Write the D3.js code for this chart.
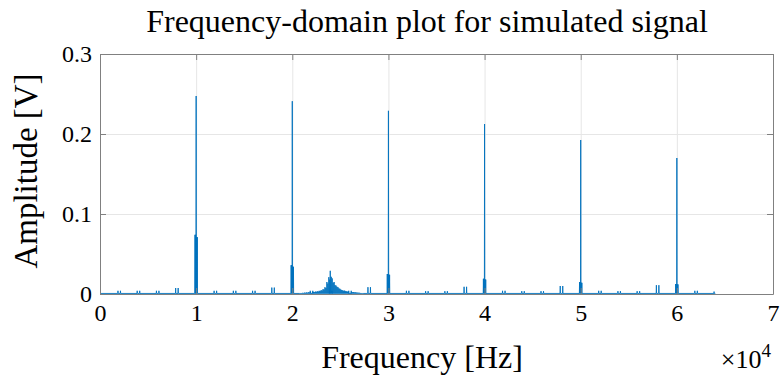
<!DOCTYPE html>
<html><head><meta charset="utf-8">
<script src="https://cdn.jsdelivr.net/npm/d3@7"></script>
<style>body{margin:0;background:#fff}svg{display:block}</style>
</head><body><div id="chart"></div>
<script>
// ---- data ----
const xTicks = [0, 10000, 20000, 30000, 40000, 50000, 60000, 70000];
const xTickLabels = ["0", "1", "2", "3", "4", "5", "6", "7"];
const yTicks = [0, 0.1, 0.2, 0.3];
const yTickLabels = ["0", "0.1", "0.2", "0.3"];

const dcAmp = 0.45;          // DC component, runs off the top of the axes
const fMax = 64000;          // last frequency bin of the spectrum

const mainFreqs = [10000, 20000, 30000, 40000, 50000, 60000];
const mainAmps  = [0.2475, 0.241, 0.229, 0.2125, 0.1925, 0.170];
const sideAmpsL = [0.074, 0.036, 0.025, 0.019, 0.015, 0.0125];
const sideAmpsR = [0.071, 0.034, 0.024, 0.018, 0.014, 0.012];

const pairCenters = [2000, 4000, 6000, 8000, 12000, 14000, 16000, 18000, 22000, 24000, 26000, 28000,
                     32000, 34000, 36000, 38000, 42000, 44000, 46000, 48000, 52000, 54000, 56000, 58000, 62000];
const pairAmps    = [0.004, 0.004, 0.004, 0.0075, 0.004, 0.004, 0.004, 0.008, 0.004, 0.004, 0.004, 0.0085,
                     0.004, 0.0035, 0.0035, 0.009, 0.004, 0.0035, 0.0035, 0.010, 0.004, 0.0035, 0.0035, 0.011, 0.004];
const lastSingleFreq = 63870;
const lastSingleAmp = 0.003;

const clusterFreqs = [20800, 20900, 21000, 21100, 21200, 21300, 21400, 21500, 21600, 21700, 21800, 21900,
  22100, 22200, 22300, 22400, 22500, 22600, 22700, 22800, 22900, 23000, 23100, 23200, 23300, 23400,
  23500, 23600, 23700, 23800, 23900, 23950, 24050, 24150, 24250, 24350, 24450, 24550, 24650, 24750,
  24850, 24950, 25050, 25150, 25250, 25350, 25450, 25550, 25650, 25750, 25850, 26150, 26250, 26350,
  26450, 26550, 26650, 26750, 26850, 26950, 27050, 27150, 27250, 27350];
const clusterAmps = [0.0010, 0.0012, 0.0011, 0.0015, 0.0012, 0.0018, 0.0014, 0.0020, 0.0016, 0.0022, 0.0018, 0.0024,
  0.0022, 0.0026, 0.0023, 0.0030, 0.0027, 0.0034, 0.0030, 0.0040, 0.0036, 0.0048, 0.0042, 0.0060, 0.0055, 0.0085,
  0.0075, 0.0150, 0.0130, 0.0210, 0.0180, 0.0290, 0.0215, 0.0195, 0.0140, 0.0150, 0.0110, 0.0105, 0.0090, 0.0085,
  0.0070, 0.0065, 0.0055, 0.0050, 0.0045, 0.0040, 0.0042, 0.0035, 0.0033, 0.0030, 0.0028, 0.0025, 0.0022, 0.0024,
  0.0020, 0.0021, 0.0018, 0.0017, 0.0015, 0.0016, 0.0013, 0.0012, 0.0011, 0.0010];

const baseAmp = 0.0007;

// ---- layout ----
const W = 781, H = 378;
const L = 100, R = 773, T = 54, B = 294;
const FONT = "'Liberation Serif', 'Times New Roman', Times, 'DejaVu Serif', serif";

const svg = d3.select("#chart").append("svg").attr("width", W).attr("height", H);
const x = d3.scaleLinear().domain([0, 70000]).range([L, R]);
const y = d3.scaleLinear().domain([0, 0.3]).range([B, T]);

// grid
const grid = svg.append("g");
grid.selectAll(".gx").data(xTicks).join("line")
  .attr("x1", d => x(d) + 0.5).attr("x2", d => x(d) + 0.5).attr("y1", T).attr("y2", B)
  .attr("stroke", "#e6e6e6").attr("stroke-width", 1);
grid.selectAll(".gy").data(yTicks).join("line")
  .attr("y1", d => Math.round(y(d)) + 0.5).attr("y2", d => Math.round(y(d)) + 0.5).attr("x1", L).attr("x2", R)
  .attr("stroke", "#e6e6e6").attr("stroke-width", 1);

// build spectrum polyline from the arrays
const spikes = [];
mainFreqs.forEach((f, i) => {
  spikes.push([f, mainAmps[i]]);
  spikes.push([f - 60, sideAmpsL[i]], [f - 120, sideAmpsL[i]]);
  spikes.push([f + 60, sideAmpsR[i]], [f + 120, sideAmpsR[i]]);
});
pairCenters.forEach((f, i) => { spikes.push([f - 130, pairAmps[i]], [f + 130, pairAmps[i]]); });
spikes.push([lastSingleFreq, lastSingleAmp]);
clusterFreqs.forEach((f, i) => spikes.push([f, clusterAmps[i]]));
spikes.sort((a, b) => a[0] - b[0]);

const pts = [[0, dcAmp], [25, baseAmp]];
spikes.forEach(([f, a]) => { pts.push([f - 20, baseAmp], [f, a], [f + 20, baseAmp]); });
pts.push([fMax, baseAmp]);

svg.append("clipPath").attr("id", "clip").append("rect")
  .attr("x", L).attr("y", T).attr("width", R - L).attr("height", B - T);

svg.append("path")
  .datum(pts)
  .attr("clip-path", "url(#clip)")
  .attr("fill", "none")
  .attr("stroke", "#0072BD")
  .attr("stroke-width", 0.9)
  .attr("d", d3.line().x(d => x(d[0])).y(d => y(d[1])));

// box + axes
const axCol = "#808080";
const xAxis = d3.axisBottom(x).tickValues(xTicks).tickFormat((d, i) => xTickLabels[i]).tickSizeInner(-6).tickSizeOuter(0).tickPadding(10);
const yAxis = d3.axisLeft(y).tickValues(yTicks).tickFormat((d, i) => yTickLabels[i]).tickSizeInner(-6).tickSizeOuter(0).tickPadding(8);
const gx = svg.append("g").attr("transform", `translate(0,${B})`).call(xAxis);
const gy = svg.append("g").attr("transform", `translate(${L},0)`).call(yAxis);
[gx, gy].forEach(g => {
  g.attr("font-family", null).attr("font-size", null);
  g.select(".domain").attr("stroke", axCol);
  g.selectAll(".tick line").attr("stroke", axCol);
  g.selectAll(".tick text").style("font-family", FONT).style("font-size", "24px").attr("fill", "#000");
});
const gxt = svg.append("g").attr("transform", `translate(0,${T})`).call(d3.axisTop(x).tickValues(xTicks).tickFormat("").tickSizeInner(-6).tickSizeOuter(0));
const gyr = svg.append("g").attr("transform", `translate(${R},0)`).call(d3.axisRight(y).tickValues(yTicks).tickFormat("").tickSizeInner(-6).tickSizeOuter(0));
[gxt, gyr].forEach(g => { g.select(".domain").attr("stroke", axCol); g.selectAll(".tick line").attr("stroke", axCol); });

// labels
function lab(sel, size) { return sel.style("font-family", FONT).style("font-size", size + "px").attr("fill", "#000"); }
lab(svg.append("text"), 32).attr("x", 427).attr("y", 32).attr("text-anchor", "middle")
  .text("Frequency-domain plot for simulated signal");
lab(svg.append("text"), 32).attr("x", 422).attr("y", 368).attr("text-anchor", "middle")
  .text("Frequency [Hz]");
lab(svg.append("text"), 33).attr("transform", `translate(37,171) rotate(-90)`).attr("text-anchor", "middle")
  .text("Amplitude [V]");
const ex = lab(svg.append("text"), 26).attr("x", 771).attr("y", 368).attr("text-anchor", "end");
ex.append("tspan").text("\u00d710");
ex.append("tspan").style("font-size", "19px").attr("dy", -11).text("4");
</script></body></html>
